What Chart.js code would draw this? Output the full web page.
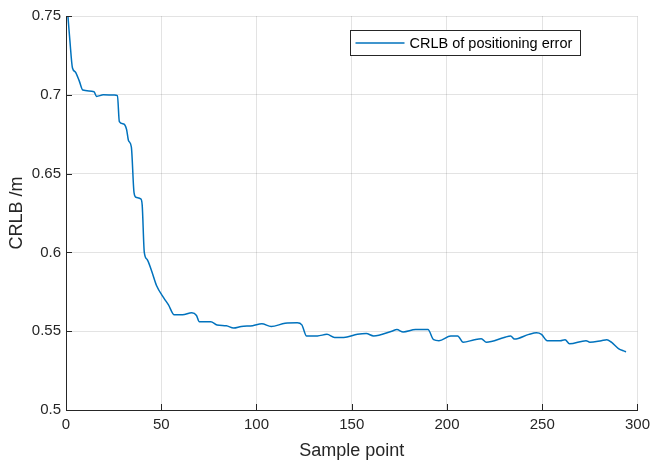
<!DOCTYPE html>
<html>
<head>
<meta charset="utf-8">
<script src="https://cdn.jsdelivr.net/npm/chart.js@4"></script>
<style>
  html, body { margin: 0; padding: 0; background: #fff; }
  #wrap { width: 656px; height: 468px; position: relative; }
</style>
</head>
<body>
<div id="wrap"><canvas id="crlbChart" width="656" height="468"></canvas></div>
<script>
// values
const samplePoints = [1, 2, 3.4, 4.9, 6.9, 8.8, 14.7, 16, 19.6, 25.4, 27, 28, 30.3, 31.8, 32.8, 34.3,
  35.7, 36.7, 39.2, 40, 41.1, 42.6, 45, 47.5, 51.4, 53.8, 56.8, 61.2, 66, 68.5, 70, 76, 79.3, 84.2,
  88, 92, 98, 102.8, 107.7, 115, 121.4, 123.8, 126.3, 132, 137, 141, 145.8, 153, 157.6, 161.5, 171,
  173.7, 177, 183.5, 190, 193, 195.8, 202, 205.6, 208.5, 214.4, 218, 220.7, 230, 233.4, 235.4, 243,
  247, 249.6, 252.6, 259.4, 262, 264.3, 273, 275, 281, 283.9, 286.3, 290, 292.7, 294];
const crlbValues = [0.75, 0.735, 0.717, 0.7145, 0.709, 0.703, 0.702, 0.699, 0.7, 0.6998, 0.6995, 0.683,
  0.6815, 0.678, 0.671, 0.667, 0.638, 0.635, 0.634, 0.63, 0.6, 0.5955, 0.588, 0.579, 0.571, 0.5667,
  0.5604, 0.5604, 0.5617, 0.56, 0.556, 0.556, 0.554, 0.5535, 0.552, 0.553, 0.5535, 0.5547, 0.553,
  0.555, 0.5553, 0.554, 0.547, 0.547, 0.548, 0.546, 0.546, 0.548, 0.5485, 0.547, 0.55, 0.551, 0.5495,
  0.551, 0.551, 0.5446, 0.544, 0.547, 0.547, 0.543, 0.5446, 0.5452, 0.543, 0.546, 0.547, 0.545, 0.548,
  0.549, 0.548, 0.544, 0.544, 0.5446, 0.542, 0.544, 0.543, 0.544, 0.5446, 0.543, 0.539, 0.5375, 0.537];
const xTicks = [0, 50, 100, 150, 200, 250, 300];
const yTicks = [0.5, 0.55, 0.6, 0.65, 0.7, 0.75];
const seriesLabel = 'CRLB of positioning error';
const xTitle = 'Sample point';
const yTitle = 'CRLB /m';

const axisColor = '#262626';
const gridColor = 'rgba(38, 38, 38, 0.13)';
const lineColor = '#0072BD';
const fontFamily = '"Liberation Sans", Arial, sans-serif';

// MATLAB style: ticks pointing into the plot
const innerTicks = {
  id: 'innerTicks',
  afterDraw(chart) {
    const { ctx, chartArea, scales } = chart;
    ctx.save();
    ctx.strokeStyle = axisColor;
    ctx.lineWidth = 1;
    ctx.beginPath();
    xTicks.forEach(v => {
      const px = Math.round(scales.x.getPixelForValue(v)) + 0.5;
      ctx.moveTo(px, chartArea.bottom);
      ctx.lineTo(px, chartArea.bottom - 6);
    });
    yTicks.forEach(v => {
      const py = Math.round(scales.y.getPixelForValue(v)) + 0.5;
      ctx.moveTo(chartArea.left, py);
      ctx.lineTo(chartArea.left + 6, py);
    });
    ctx.stroke();
    ctx.restore();
  }
};

const boxLegend = {
  id: 'boxLegend',
  afterDraw(chart) {
    const { ctx, chartArea } = chart;
    const w = chartArea.right - chartArea.left;
    const h = chartArea.bottom - chartArea.top;
    const left = Math.round(chartArea.left + w * 0.4965) + 0.5;
    const right = Math.round(chartArea.left + w * 0.9) + 0.5;
    const top = Math.round(chartArea.top + h * 0.036) + 0.5;
    const bottom = Math.round(chartArea.top + h * 0.099) + 0.5;
    ctx.save();
    ctx.fillStyle = '#fff';
    ctx.fillRect(left, top, right - left, bottom - top);
    ctx.strokeStyle = axisColor;
    ctx.lineWidth = 1;
    ctx.strokeRect(left, top, right - left, bottom - top);
    const midY = (top + bottom) / 2;
    ctx.strokeStyle = lineColor;
    ctx.lineWidth = 1.4;
    ctx.beginPath();
    ctx.moveTo(left + 5, midY);
    ctx.lineTo(left + 54, midY);
    ctx.stroke();
    ctx.fillStyle = '#000';
    ctx.font = '14.5px ' + fontFamily;
    ctx.textBaseline = 'middle';
    ctx.fillText(seriesLabel, left + 59, midY + 0.5);
    ctx.restore();
  }
};

new Chart(document.getElementById('crlbChart'), {
  type: 'line',
  data: {
    datasets: [{
      label: seriesLabel,
      data: samplePoints.map((x, i) => ({ x, y: crlbValues[i] })),
      borderColor: lineColor,
      borderWidth: 1.5,
      pointRadius: 0,
      fill: false,
      cubicInterpolationMode: 'monotone'
    }]
  },
  options: {
    responsive: false,
    animation: false,
    devicePixelRatio: 1,
    layout: { padding: { top: 16, right: 16, left: 0, bottom: 0 } },
    plugins: { legend: { display: false }, tooltip: { enabled: false } },
    scales: {
      x: {
        type: 'linear',
        min: 0, max: 300,
        afterBuildTicks: s => { s.ticks = xTicks.map(v => ({ value: v })); },
        afterFit: s => { s.height = 58; },
        grid: { color: gridColor, drawTicks: false },
        border: { display: true, color: axisColor },
        ticks: { color: axisColor, padding: 6, font: { family: fontFamily, size: 15 }, maxRotation: 0 },
        title: { display: true, text: xTitle, color: axisColor, padding: { top: 0, bottom: 6 }, font: { family: fontFamily, size: 18 } }
      },
      y: {
        min: 0.5, max: 0.75,
        afterBuildTicks: s => { s.ticks = yTicks.map(v => ({ value: v })); },
        afterFit: s => { s.width = 66; },
        grid: { color: gridColor, drawTicks: false },
        border: { display: true, color: axisColor },
        ticks: { color: axisColor, padding: 5, font: { family: fontFamily, size: 15 }, callback: v => String(+v.toFixed(2)) },
        title: { display: true, text: yTitle, color: axisColor, padding: { top: 6, bottom: 0 }, font: { family: fontFamily, size: 18 } }
      }
    }
  },
  plugins: [innerTicks, boxLegend]
});
</script>
</body>
</html>
